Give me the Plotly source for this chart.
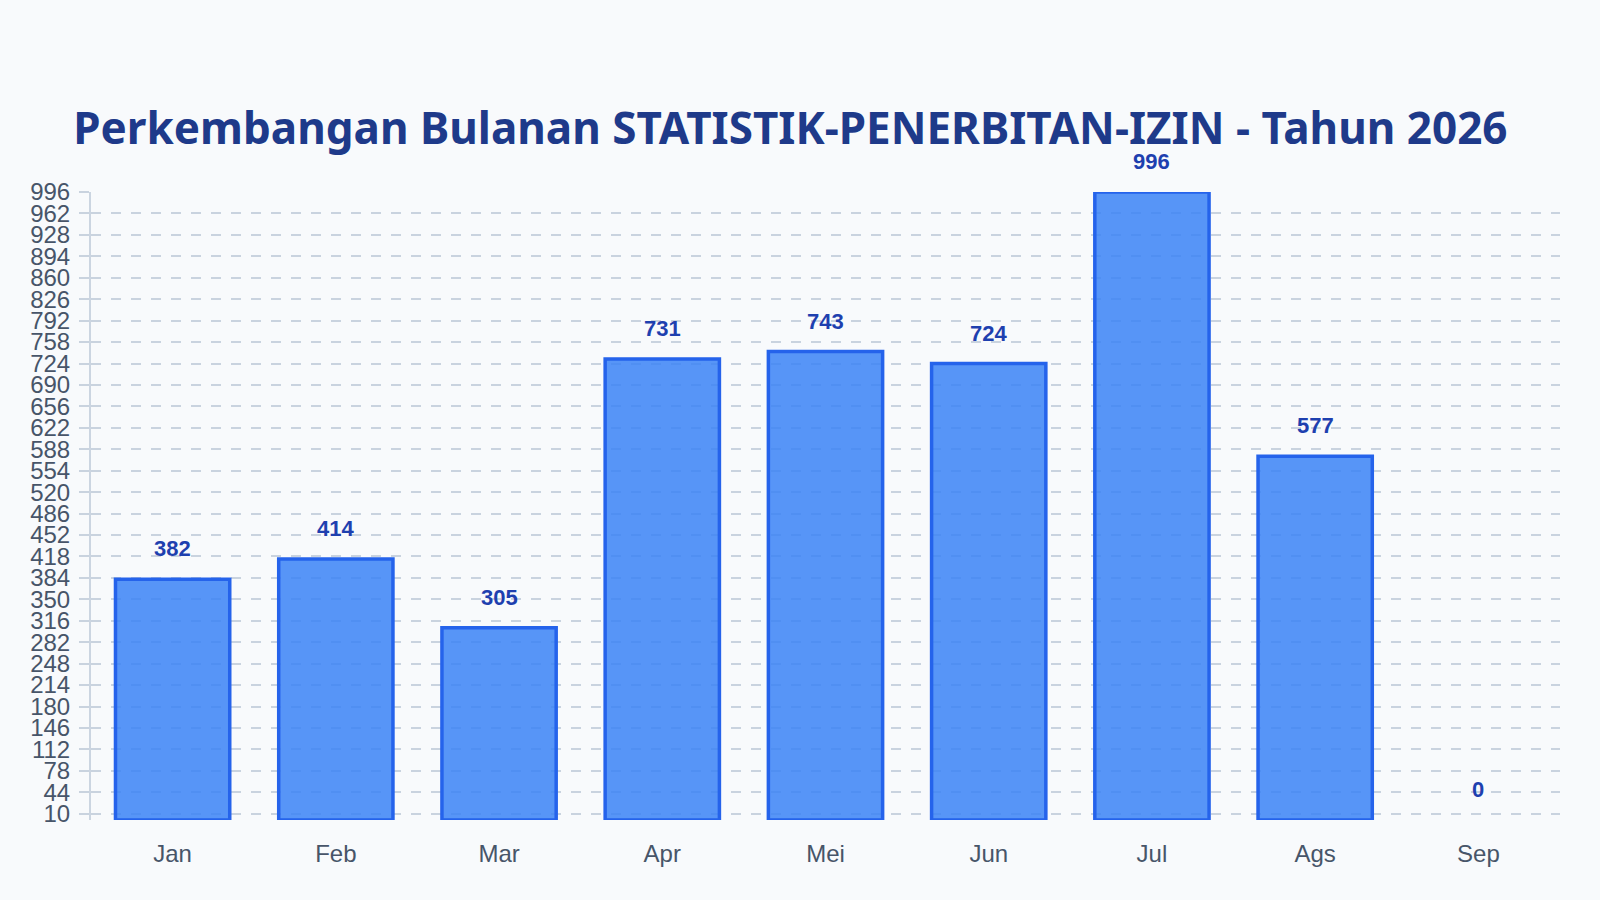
import plotly.graph_objects as go

months = ["Jan", "Feb", "Mar", "Apr", "Mei", "Jun", "Jul", "Ags", "Sep"]
values = [382, 414, 305, 731, 743, 724, 996, 577, 0]
y_ticks = list(range(10, 997, 34))
title_text = "Perkembangan Bulanan STATISTIK-PENERBITAN-IZIN - Tahun 2026"

fig = go.Figure()
fig.add_trace(go.Bar(
    x=months,
    y=values,
    width=0.7,
    marker=dict(
        color="rgba(59,130,246,0.85)",
        line=dict(color="#2563eb", width=[3.5 if v > 0 else 0 for v in values]),
    ),
    hoverinfo="skip",
))

for m, v in zip(months, values):
    fig.add_annotation(
        x=m, y=v, text=f"<b>{v}</b>", showarrow=False,
        yanchor="bottom", yshift=16,
        font=dict(family="Liberation Sans, Arial, sans-serif", size=22, color="#1e40af"),
    )

fig.update_layout(
    width=1600, height=900,
    paper_bgcolor="#f8fafc", plot_bgcolor="#f8fafc",
    margin=dict(l=91, r=40, t=192, b=80),
    showlegend=False,
    title=dict(
        text=f"<b>{title_text}</b>",
        x=0.494, xanchor="center", y=1 - 128.5 / 900, yanchor="middle",
        font=dict(family="Noto Sans, sans-serif", size=44, color="#1e3a8a"),
    ),
    xaxis=dict(
        showgrid=False, showline=False, zeroline=False,
        tickfont=dict(family="Liberation Sans, Arial, sans-serif", size=24, color="#475569"),
        ticks="", ticklabelstandoff=17,
    ),
    yaxis=dict(
        range=[0, 996],
        tickvals=y_ticks,
        ticktext=[str(t) for t in y_ticks],
        showgrid=True, gridcolor="#c9d3df", gridwidth=2, griddash="10px,10px",
        showline=True, linecolor="#cbd5e1", linewidth=2,
        zeroline=False,
        ticks="outside", ticklen=10, tickwidth=2, tickcolor="#c9d3df",
        ticklabelstandoff=4,
        tickfont=dict(family="Liberation Sans, Arial, sans-serif", size=24, color="#475569"),
    ),
    bargap=0.3,
)

fig.write_html(
    "out.html",
    config={"displayModeBar": False},
    post_script="document.body.style.margin='0';document.body.style.background='#f8fafc';document.body.style.overflow='hidden';",
)
